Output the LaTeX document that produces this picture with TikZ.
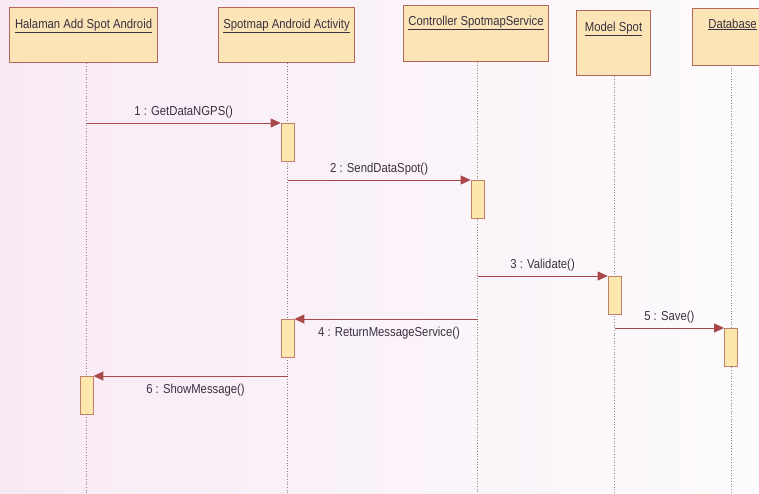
\documentclass[tikz,border=0pt]{standalone}
\usepackage{fontspec}
\setmainfont{Liberation Sans}[FakeStretch=0.87]
\usetikzlibrary{arrows.meta,calc}
\definecolor{bgpink}{HTML}{F8EAF5}
\definecolor{bgwhite}{HTML}{FDFBFD}
\definecolor{headfill}{HTML}{FBE4B6}
\definecolor{headline}{HTML}{B5685A}
\definecolor{actfill}{HTML}{FCE8AC}
\definecolor{actline}{HTML}{C0806A}
\definecolor{msgcol}{HTML}{A8484A}
\definecolor{lifecol}{HTML}{8A8A8A}
\definecolor{txt}{HTML}{3A3040}
\begin{document}
\begin{tikzpicture}[x=1pt,y=-1pt,
  font=\fontsize{13}{15}\selectfont, text=txt,
  head/.style={draw=headline, line width=1.1pt, fill=headfill, anchor=north west,
    inner sep=0pt},
  lifeline/.style={draw=lifecol, line width=0.7pt, dotted},
  act/.style={draw=actline, line width=0.8pt, fill=actfill, anchor=north,
    minimum width=13pt, minimum height=38pt, inner sep=0pt},
  msg/.style={draw=msgcol, line width=1pt,
    -{Triangle[length=10pt,width=9pt]}},
  lbl/.style={inner sep=1pt}
]
% page and background
\shade[left color=bgpink, right color=bgwhite, shading angle=90]
  (0,0) rectangle (759,493);
\useasboundingbox (0,0) rectangle (759,493);

% object heads
\node[head, minimum width=148pt, minimum height=55pt] (h1) at (9,7) {};
\node[anchor=base] (t1) at ($(h1.north)+(0,21)$) {\underline{Halaman Add Spot Android}};
\node[head, minimum width=136pt, minimum height=55pt] (h2) at (218,7) {};
\node[anchor=base] (t2) at ($(h2.north)+(0,21)$) {\underline{Spotmap Android Activity}};
\node[head, minimum width=145pt, minimum height=56pt] (h3) at (403,5) {};
\node[anchor=base] (t3) at ($(h3.north)+(0,20)$) {\underline{Controller SpotmapService}};
\node[head, minimum width=74pt, minimum height=65pt] (h4) at (576,10) {};
\node[anchor=base] (t4) at ($(h4.north)+(0,21)$) {\underline{Model Spot}};
\node[head, minimum width=80pt, minimum height=57pt] (h5) at (692,8) {};
\node[anchor=base] (t5) at ($(h5.north)+(0,20)$) {\underline{Database}};

% lifelines
\coordinate (s1) at ($(h1.south)+(3,0)$);
\coordinate (s2) at ($(h2.south)+(1,0)$);
\coordinate (s3) at ($(h3.south)+(1.5,0)$);
\coordinate (s4) at ($(h4.south)+(1,0)$);
\coordinate (s5) at (731,65);
\foreach \i in {1,...,5} {
  \coordinate (e\i) at (s\i |- 0,493);
  \draw[lifeline] (s\i) -- (e\i);
}

% activations
\node[act] (a1) at (s2 |- 0,123) {};
\node[act] (a2) at (s3 |- 0,180) {};
\node[act] (a3) at (s4 |- 0,276) {};
\node[act] (a5) at (s5 |- 0,328) {};
\node[act] (a4) at (s2 |- 0,319) {};
\node[act] (a6) at (s1 |- 0,376) {};

% message origins on lifelines
\coordinate (m1) at (s1 |- a1.north);
\coordinate (m2) at (s2 |- a2.north);
\coordinate (m3) at (s3 |- a3.north);
\coordinate (m5) at (s4 |- a5.north);
\coordinate (m4) at (s3 |- a4.north);
\coordinate (m6) at (s2 |- a6.north);

% messages
\draw[msg] (m1) -- node[lbl, above=3pt] {1 : GetDataNGPS()} (a1.north west);
\draw[msg] (m2) -- node[lbl, above=3pt] {2 : SendDataSpot()} (a2.north west);
\draw[msg] (m3) -- node[lbl, above=3pt] {3 : Validate()} (a3.north west);
\draw[msg] (m5) -- node[lbl, above=3pt] {5 : Save()} (a5.north west);
\draw[msg] (m4) -- node[lbl, below=7pt, xshift=3pt] {4 : ReturnMessageService()} (a4.north east);
\draw[msg] (m6) -- node[lbl, below=7pt, xshift=5pt] {6 : ShowMessage()} (a6.north east);
\end{tikzpicture}
\end{document}
